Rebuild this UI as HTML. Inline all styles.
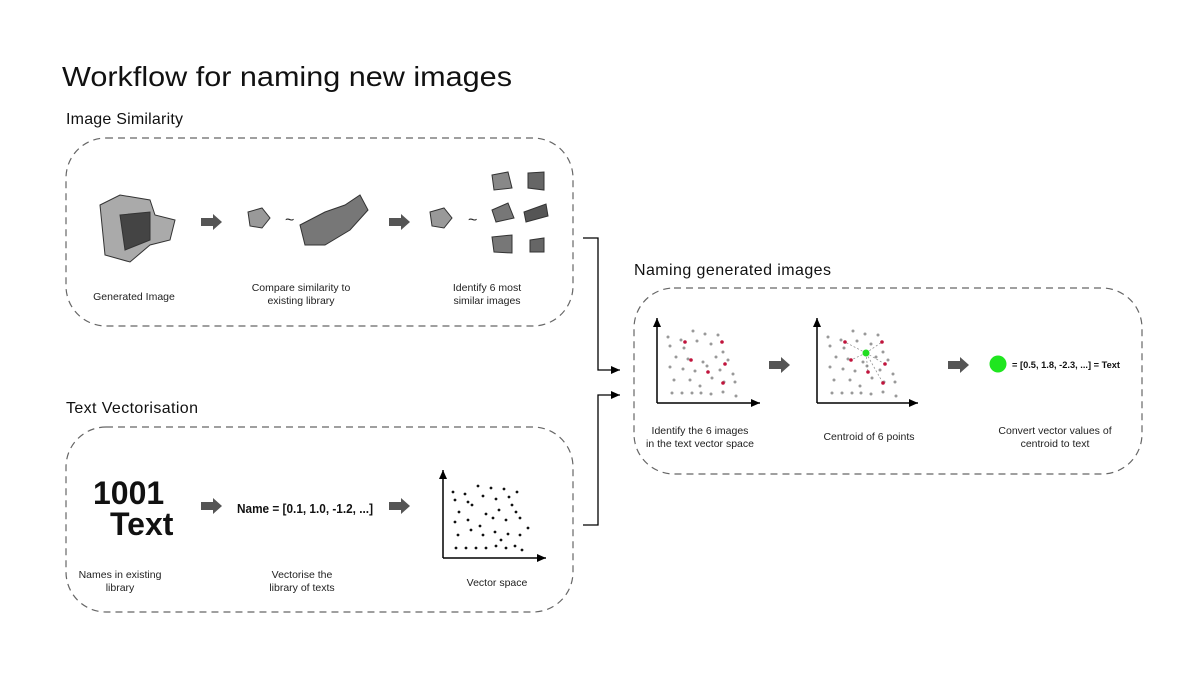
<!DOCTYPE html>
<html><head><meta charset="utf-8"><style>
html,body{margin:0;padding:0;background:#fff;}
svg{display:block;font-family:"Liberation Sans",sans-serif;}
</style></head><body>
<svg width="1200" height="675" viewBox="0 0 1200 675" xmlns="http://www.w3.org/2000/svg">
<defs>
<marker id="ah" markerWidth="10" markerHeight="10" refX="9" refY="5" orient="auto" markerUnits="userSpaceOnUse"><path d="M0,1 L9,5 L0,9 z" fill="#000"/></marker>
<g id="blk"><path d="M0,-4 L12,-4 L12,-8 L21,0 L12,8 L12,4 L0,4 z" fill="#555"/></g>
</defs>
<text x="62" y="86" font-size="28" fill="#111" textLength="450" lengthAdjust="spacingAndGlyphs">Workflow for naming new images</text>
<text x="66" y="124" font-size="16" fill="#111" textLength="117">Image Similarity</text>
<text x="66" y="413" font-size="16" fill="#111" textLength="132">Text Vectorisation</text>
<text x="634" y="275" font-size="16" fill="#111" textLength="197">Naming generated images</text>

<g fill="none" stroke="#666" stroke-width="1.2" stroke-dasharray="7,5">
<rect x="66" y="138" width="507" height="188" rx="40"/>
<rect x="66" y="427" width="507" height="185" rx="40"/>
<rect x="634" y="288" width="508" height="186" rx="40"/>
</g>

<g stroke="#000" stroke-width="1.3" fill="none">
<polyline points="583,238 598,238 598,370 620,370" marker-end="url(#ah)"/>
<polyline points="583,525 598,525 598,395 620,395" marker-end="url(#ah)"/>
</g>

<g fill="#888" stroke="#333" stroke-width="1">
<path d="M100,205 L120,195 L150,200 L155,215 L175,220 L170,240 L150,245 L130,262 L105,255 z" fill="#aaa"/>
<path d="M120,215 L150,212 L150,240 L125,250 z" fill="#444"/>
<path d="M248,212 L262,208 L270,218 L262,228 L250,226 z" fill="#999"/>
<path d="M300,225 L325,212 L345,205 L360,195 L368,210 L350,230 L325,245 L305,245 z" fill="#777"/>
<path d="M430,212 L444,208 L452,218 L444,228 L432,226 z" fill="#999"/>
<path d="M492,175 L508,172 L512,188 L494,190 z" fill="#888"/>
<path d="M528,173 L544,172 L544,190 L528,188 z" fill="#666"/>
<path d="M492,210 L508,203 L514,218 L496,222 z" fill="#777"/>
<path d="M524,212 L546,204 L548,216 L526,222 z" fill="#555"/>
<path d="M492,237 L512,235 L512,253 L494,252 z" fill="#777"/>
<path d="M530,240 L544,238 L544,252 L530,252 z" fill="#666"/>
</g>
<text x="285" y="225" font-size="16" fill="#222">~</text>
<text x="468" y="225" font-size="16" fill="#222">~</text>
<use href="#blk" x="201" y="222"/>
<use href="#blk" x="389" y="222"/>
<g font-size="10.5" fill="#222" text-anchor="middle">
<text x="134" y="300">Generated Image</text>
<text x="301" y="291">Compare similarity to</text>
<text x="301" y="304">existing library</text>
<text x="487" y="291">Identify 6 most</text>
<text x="487" y="304">similar images</text>
</g>

<text x="93" y="504" font-size="32" font-weight="bold" fill="#111">1001</text>
<text x="110" y="535" font-size="32" font-weight="bold" fill="#111">Text</text>
<use href="#blk" x="201" y="506"/>
<text x="237" y="513" font-size="12.5" font-weight="bold" fill="#111" textLength="136" lengthAdjust="spacingAndGlyphs">Name = [0.1, 1.0, -1.2, ...]</text>
<use href="#blk" x="389" y="506"/>
<g stroke="#000" stroke-width="1.5" fill="none">
<line x1="443" y1="558" x2="443" y2="470" marker-end="url(#ah)"/>
<line x1="443" y1="558" x2="546" y2="558" marker-end="url(#ah)"/>
</g>
<g fill="#111">
<circle cx="453" cy="492" r="1.4"/><circle cx="465" cy="494" r="1.4"/><circle cx="478" cy="486" r="1.4"/><circle cx="491" cy="488" r="1.4"/><circle cx="504" cy="489" r="1.4"/><circle cx="517" cy="492" r="1.4"/>
<circle cx="455" cy="500" r="1.4"/><circle cx="468" cy="502" r="1.4"/><circle cx="483" cy="496" r="1.4"/><circle cx="496" cy="499" r="1.4"/><circle cx="509" cy="497" r="1.4"/>
<circle cx="459" cy="512" r="1.4"/><circle cx="472" cy="505" r="1.4"/><circle cx="486" cy="514" r="1.4"/><circle cx="499" cy="510" r="1.4"/><circle cx="512" cy="505" r="1.4"/><circle cx="516" cy="512" r="1.4"/>
<circle cx="455" cy="522" r="1.4"/><circle cx="468" cy="520" r="1.4"/><circle cx="480" cy="526" r="1.4"/><circle cx="493" cy="518" r="1.4"/><circle cx="506" cy="520" r="1.4"/><circle cx="520" cy="518" r="1.4"/><circle cx="528" cy="528" r="1.4"/>
<circle cx="458" cy="535" r="1.4"/><circle cx="471" cy="530" r="1.4"/><circle cx="483" cy="535" r="1.4"/><circle cx="495" cy="532" r="1.4"/><circle cx="508" cy="534" r="1.4"/><circle cx="520" cy="535" r="1.4"/><circle cx="501" cy="540" r="1.4"/>
<circle cx="456" cy="548" r="1.4"/><circle cx="466" cy="548" r="1.4"/><circle cx="476" cy="548" r="1.4"/><circle cx="486" cy="548" r="1.4"/><circle cx="496" cy="546" r="1.4"/><circle cx="506" cy="548" r="1.4"/><circle cx="515" cy="546" r="1.4"/><circle cx="522" cy="550" r="1.4"/>
</g>
<g font-size="10.5" fill="#222" text-anchor="middle">
<text x="120" y="578">Names in existing</text>
<text x="120" y="591">library</text>
<text x="302" y="578">Vectorise the</text>
<text x="302" y="591">library of texts</text>
<text x="497" y="586">Vector space</text>
</g>

<g stroke="#000" stroke-width="1.5" fill="none">
<line x1="657" y1="403" x2="657" y2="318" marker-end="url(#ah)"/>
<line x1="657" y1="403" x2="760" y2="403" marker-end="url(#ah)"/>
<line x1="817" y1="403" x2="817" y2="318" marker-end="url(#ah)"/>
<line x1="817" y1="403" x2="918" y2="403" marker-end="url(#ah)"/>
</g>
<g id="sc" fill="#999">
<circle cx="668" cy="337" r="1.5"/><circle cx="681" cy="340" r="1.5"/><circle cx="693" cy="331" r="1.5"/><circle cx="705" cy="334" r="1.5"/><circle cx="718" cy="335" r="1.5"/>
<circle cx="670" cy="346" r="1.5"/><circle cx="684" cy="348" r="1.5"/><circle cx="697" cy="341" r="1.5"/><circle cx="711" cy="344" r="1.5"/><circle cx="723" cy="352" r="1.5"/>
<circle cx="676" cy="357" r="1.5"/><circle cx="688" cy="359" r="1.5"/><circle cx="703" cy="362" r="1.5"/><circle cx="716" cy="357" r="1.5"/><circle cx="728" cy="360" r="1.5"/>
<circle cx="670" cy="367" r="1.5"/><circle cx="683" cy="369" r="1.5"/><circle cx="695" cy="371" r="1.5"/><circle cx="707" cy="366" r="1.5"/><circle cx="720" cy="370" r="1.5"/><circle cx="733" cy="374" r="1.5"/>
<circle cx="674" cy="380" r="1.5"/><circle cx="690" cy="380" r="1.5"/><circle cx="700" cy="386" r="1.5"/><circle cx="712" cy="378" r="1.5"/><circle cx="724" cy="382" r="1.5"/><circle cx="735" cy="382" r="1.5"/>
<circle cx="672" cy="393" r="1.5"/><circle cx="682" cy="393" r="1.5"/><circle cx="692" cy="393" r="1.5"/><circle cx="701" cy="393" r="1.5"/><circle cx="711" cy="394" r="1.5"/><circle cx="723" cy="392" r="1.5"/><circle cx="736" cy="396" r="1.5"/>
</g>
<g fill="#c0143c">
<circle cx="685" cy="342" r="1.8"/><circle cx="722" cy="342" r="1.8"/><circle cx="691" cy="360" r="1.8"/><circle cx="725" cy="364" r="1.8"/><circle cx="708" cy="372" r="1.8"/><circle cx="723" cy="383" r="1.8"/>
</g>
<use href="#sc" x="160" y="0"/>
<g stroke="#888" stroke-width="0.7" stroke-dasharray="2,2">
<line x1="866" y1="353" x2="845" y2="342"/><line x1="866" y1="353" x2="882" y2="342"/><line x1="866" y1="353" x2="851" y2="360"/><line x1="866" y1="353" x2="885" y2="364"/><line x1="866" y1="353" x2="868" y2="372"/><line x1="866" y1="353" x2="883" y2="383"/>
</g>
<g fill="#c0143c">
<circle cx="845" cy="342" r="1.8"/><circle cx="882" cy="342" r="1.8"/><circle cx="851" cy="360" r="1.8"/><circle cx="885" cy="364" r="1.8"/><circle cx="868" cy="372" r="1.8"/><circle cx="883" cy="383" r="1.8"/>
</g>
<circle cx="866" cy="353" r="3.5" fill="#22dd22"/>
<use href="#blk" x="769" y="365"/>
<use href="#blk" x="948" y="365"/>
<circle cx="998" cy="364" r="8.5" fill="#1fe61f"/>
<text x="1012" y="368" font-size="9.5" font-weight="bold" fill="#111" textLength="108" lengthAdjust="spacingAndGlyphs">= [0.5, 1.8, -2.3, ...] = Text</text>
<g font-size="10.5" fill="#222" text-anchor="middle">
<text x="700" y="434">Identify the 6 images</text>
<text x="700" y="447">in the text vector space</text>
<text x="869" y="440">Centroid of 6 points</text>
<text x="1055" y="434">Convert vector values of</text>
<text x="1055" y="447">centroid to text</text>
</g>
</svg>
</body></html>
